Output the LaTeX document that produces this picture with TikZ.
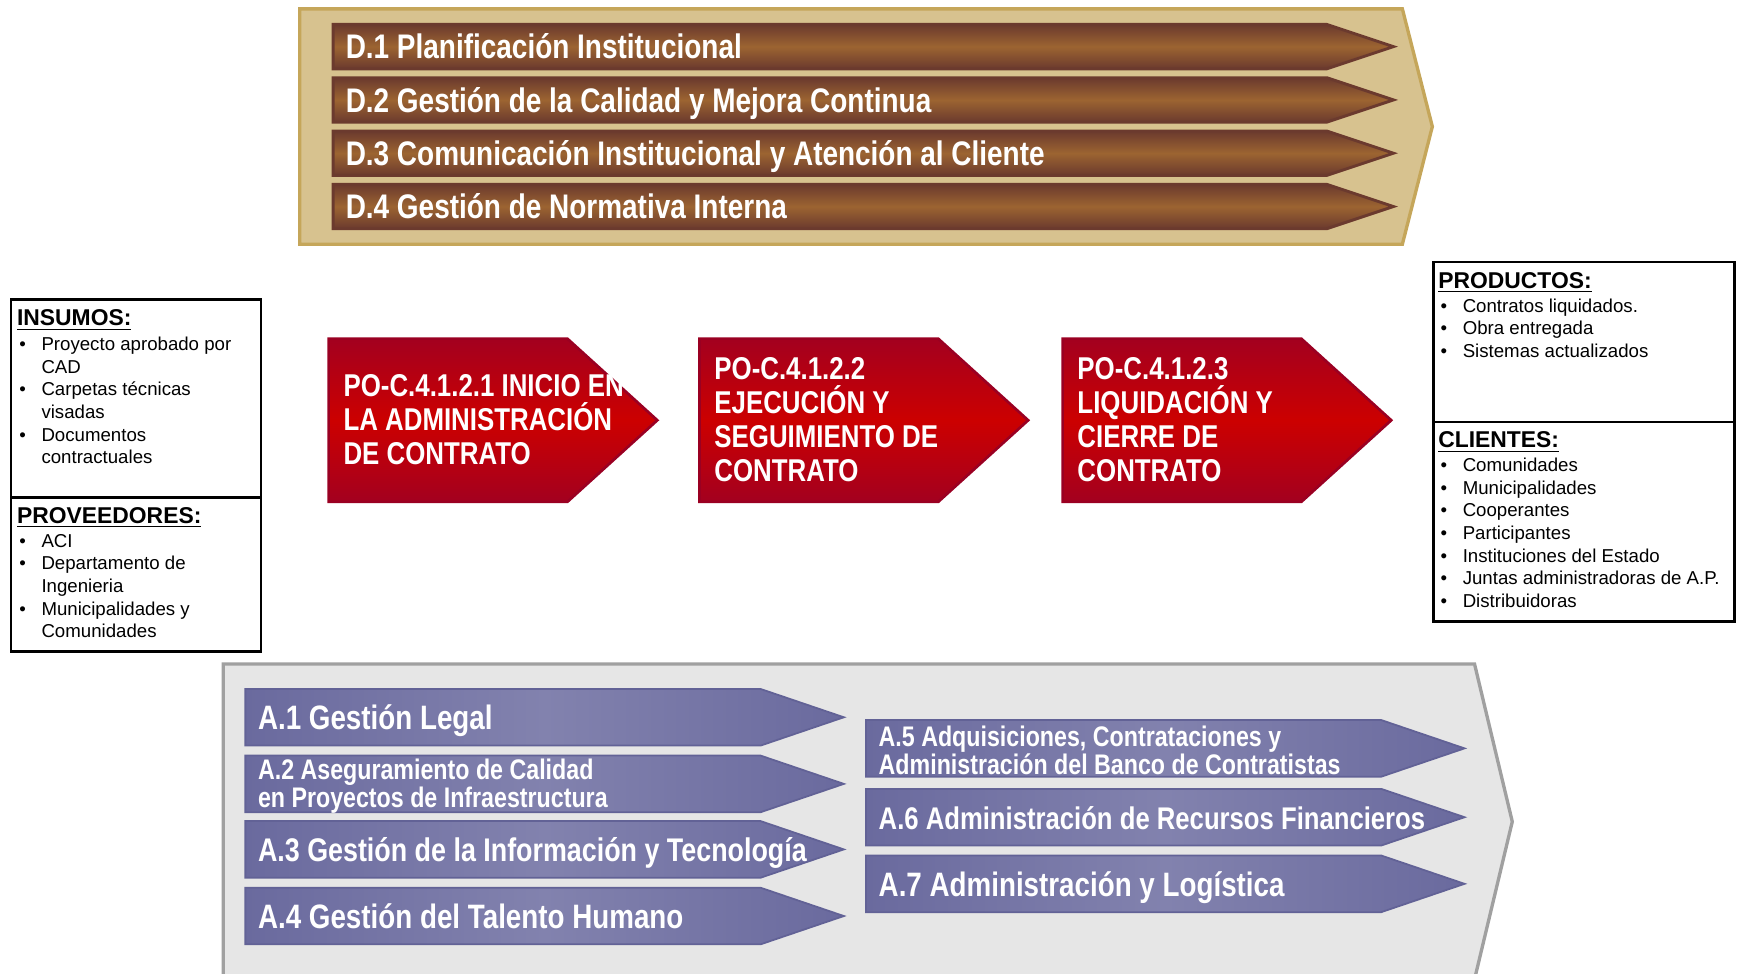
\documentclass[tikz,border=0pt]{standalone}
\usepackage{fontspec}
\setmainfont{Liberation Sans}
\newfontfamily\narrowfont[FakeStretch=0.82]{Liberation Sans}

\definecolor{goldfill}{HTML}{D7C28F}
\definecolor{goldline}{HTML}{C5A65A}
\definecolor{brownedge}{HTML}{6B3A2E}
\definecolor{brownmid}{HTML}{9C6431}
\definecolor{rededge}{HTML}{A3001F}
\definecolor{redmid}{HTML}{CC0000}
\definecolor{redline}{HTML}{9A0022}
\definecolor{purpleedge}{HTML}{6A6A9E}
\definecolor{purplemid}{HTML}{8282AE}
\definecolor{purpleline}{HTML}{626296}
\definecolor{grayfill}{HTML}{E6E6E6}
\definecolor{grayline}{HTML}{A0A0A0}

\begin{document}
\begin{tikzpicture}[x=0.5pt, y=-0.5pt,
    dirshape/.style={draw=brownedge, line width=1.3pt, top color=brownedge, bottom color=brownedge, middle color=brownmid},
    dirtext/.style={text=white, anchor=base west, inner sep=0pt, font=\narrowfont\bfseries\fontsize{15.35}{15.35}\selectfont},
    opshape/.style={draw=redline, line width=1.2pt, top color=rededge, bottom color=rededge, middle color=redmid},
    optext/.style={text=white, anchor=west, align=left, inner sep=0pt, font=\narrowfont\bfseries\fontsize{14.2}{15.25}\selectfont},
    supshape/.style={draw=purpleline, line width=0.8pt, left color=purpleedge, right color=purpleedge, middle color=purplemid},
    suptext/.style={text=white, anchor=base west, yshift=-5.5pt, inner sep=0pt, font=\narrowfont\bfseries\fontsize{15.25}{15.25}\selectfont},
    suptwo/.style={anchor=west, align=left, yshift=4.5pt, font=\narrowfont\bfseries\fontsize{12.75}{12.5}\selectfont},
    infobox/.style={draw=black, line width=1.2pt},
    infotitle/.style={anchor=base west, inner sep=0pt, font=\bfseries\fontsize{10.3}{12}\selectfont},
    infolist/.style={anchor=base west, inner sep=0pt, font=\fontsize{8.4}{10.15}\selectfont}]
    \useasboundingbox (0,0) rectangle (1568,877);
    \clip (0,0) rectangle (1568,877);

    \newcommand{\bl}{\makebox[11pt][l]{\hspace{1pt}\textbullet}}

    \newcommand{\dirbar}[3]{
        \draw[dirshape] (300,#2-20) -- (1195,#2-20) -- (1255,#2) -- (1195,#2+20) -- (300,#2+20) -- cycle;
        \node[dirtext] (#1) at (311,#2+11) {#3};
    }
    \newcommand{\opchevron}[3]{
        \draw[opshape] (#2,305) -- (#2+215,305) -- (#2+296,378.5) -- (#2+215,452) -- (#2,452) -- cycle;
        \node[optext] (#1) at (#2+13,378) {#3};
    }
    \newcommand{\supbar}[5][]{
        \draw[supshape] (#3,#4-25.5) -- (#3+464,#4-25.5) -- (#3+539,#4) -- (#3+464,#4+25.5) -- (#3,#4+25.5) -- cycle;
        \node[suptext,#1] (#2) at (#3+11,#4) {#5};
    }

    \draw[fill=goldfill, draw=goldline, line width=1.5pt] (270,8) -- (1263,8) -- (1290,114) -- (1263,220) -- (270,220) -- cycle;
    \dirbar{d1}{42}{D.1 Planificación Institucional};
    \dirbar{d2}{90}{D.2 Gestión de la Calidad y Mejora Continua};
    \dirbar{d3}{138}{D.3 Comunicación Institucional y Atención al Cliente};
    \dirbar{d4}{186}{D.4 Gestión de Normativa Interna};

    \opchevron{po1}{296}{PO-C.4.1.2.1 INICIO EN\\LA ADMINISTRACIÓN\\DE CONTRATO};
    \opchevron{po2}{630}{PO-C.4.1.2.2\\EJECUCIÓN Y\\SEGUIMIENTO DE\\CONTRATO};
    \opchevron{po3}{957}{PO-C.4.1.2.3\\LIQUIDACIÓN Y\\CIERRE DE\\CONTRATO};

    \draw[infobox] (10,270) rectangle (235,587);
    \draw[infobox] (10,448) -- (235,448);
    \node[infotitle] (insumos) at (15,293.4) {\underline{INSUMOS:}};
    \node[infolist] (insumoslist) at (15,316) {\begin{tabular}[t]{@{}l@{}l@{}}
        \bl & Proyecto aprobado por\\ & CAD\\
        \bl & Carpetas técnicas\\ & visadas\\
        \bl & Documentos\\ & contractuales\end{tabular}};
    \node[infotitle] (proveedores) at (15,471.4) {\underline{PROVEEDORES:}};
    \node[infolist] (proveedoreslist) at (15,493) {\begin{tabular}[t]{@{}l@{}l@{}}
        \bl & ACI\\
        \bl & Departamento de\\ & Ingenieria\\
        \bl & Municipalidades y\\ & Comunidades\end{tabular}};

    \draw[infobox] (1291,236) rectangle (1562,560);
    \draw[infobox] (1291,380) -- (1562,380);
    \node[infotitle] (productos) at (1295,259.4) {\underline{PRODUCTOS:}};
    \node[infolist] (productoslist) at (1295,281) {\begin{tabular}[t]{@{}l@{}l@{}}
        \bl & Contratos liquidados.\\
        \bl & Obra entregada\\
        \bl & Sistemas actualizados\end{tabular}};
    \node[infotitle] (clientes) at (1295,403.4) {\underline{CLIENTES:}};
    \node[infolist] (clienteslist) at (1295,425) {\begin{tabular}[t]{@{}l@{}l@{}}
        \bl & Comunidades\\
        \bl & Municipalidades\\
        \bl & Cooperantes\\
        \bl & Participantes\\
        \bl & Instituciones del Estado\\
        \bl & Juntas administradoras de A.P.\\
        \bl & Distribuidoras\end{tabular}};

    \draw[fill=grayfill, draw=grayline, line width=1.5pt] (201,598) -- (1328,598) -- (1362,740) -- (1328,882) -- (201,882) -- cycle;
    \supbar{a1}{221}{646}{A.1 Gestión Legal};
    \supbar[suptwo]{a2}{221}{706}{A.2 Aseguramiento de Calidad\\en Proyectos de Infraestructura};
    \supbar[font=\narrowfont\bfseries\fontsize{14.75}{14.75}\selectfont]{a3}{221}{765}{A.3 Gestión de la Información y Tecnología};
    \supbar{a4}{221}{825}{A.4 Gestión del Talento Humano};
    \supbar[suptwo]{a5}{780}{674}{A.5 Adquisiciones, Contrataciones y\\Administración del Banco de Contratistas};
    \supbar[font=\narrowfont\bfseries\fontsize{14.1}{14.1}\selectfont]{a6}{780}{736}{A.6 Administración de Recursos Financieros};
    \supbar{a7}{780}{796}{A.7 Administración y Logística};
\end{tikzpicture}
\end{document}
